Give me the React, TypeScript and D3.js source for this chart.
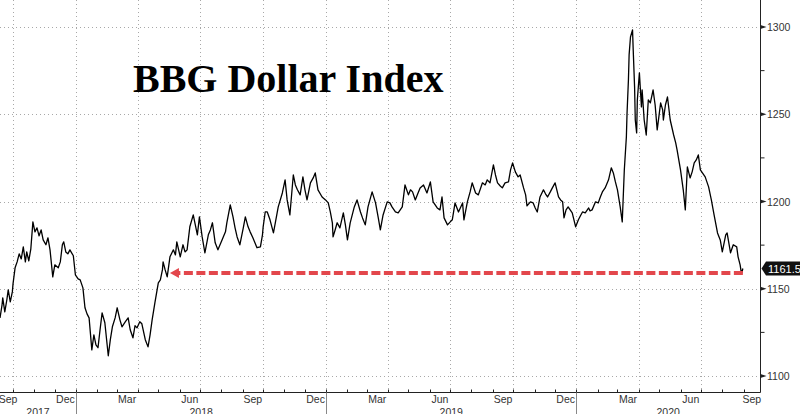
import React from 'react';
import * as d3 from 'd3';

// BBG Dollar Index (roughly every few days)
const series: [string, number][] = [
  ['2017-09-12', 1133.3], ['2017-09-15', 1140.8], ['2017-09-16', 1144.8], ['2017-09-19', 1136.8],
  ['2017-09-22', 1143.7], ['2017-09-24', 1149.4], ['2017-09-27', 1142.5], ['2017-09-30', 1148.2],
  ['2017-10-01', 1152.8], ['2017-10-04', 1162.0], ['2017-10-07', 1165.4], ['2017-10-10', 1170.0],
  ['2017-10-13', 1167.1], ['2017-10-16', 1174.0], ['2017-10-19', 1165.4], ['2017-10-21', 1171.1],
  ['2017-10-24', 1166.0], ['2017-10-27', 1172.9], ['2017-10-30', 1188.3], ['2017-11-02', 1182.6],
  ['2017-11-05', 1184.9], ['2017-11-08', 1180.3], ['2017-11-11', 1183.7], ['2017-11-14', 1178.0],
  ['2017-11-18', 1175.2], ['2017-11-21', 1179.2], ['2017-11-24', 1172.3], ['2017-11-28', 1156.8],
  ['2017-12-01', 1163.7], ['2017-12-06', 1162.0], ['2017-12-09', 1165.4], ['2017-12-12', 1175.2],
  ['2017-12-14', 1176.9], ['2017-12-17', 1171.1], ['2017-12-20', 1170.0], ['2017-12-23', 1172.3],
  ['2017-12-28', 1168.9], ['2017-12-31', 1158.0], ['2018-01-04', 1155.7], ['2018-01-07', 1155.1],
  ['2018-01-11', 1150.5], ['2018-01-14', 1139.1], ['2018-01-17', 1135.6], ['2018-01-20', 1133.3],
  ['2018-01-24', 1115.0], ['2018-01-27', 1123.6], ['2018-01-30', 1117.9], ['2018-02-02', 1116.2],
  ['2018-02-05', 1126.5], ['2018-02-08', 1136.2], ['2018-02-12', 1130.5], ['2018-02-17', 1111.6],
  ['2018-02-20', 1120.8], ['2018-02-23', 1128.2], ['2018-02-27', 1133.3], ['2018-03-02', 1139.1],
  ['2018-03-06', 1132.2], ['2018-03-09', 1128.2], ['2018-03-14', 1131.1], ['2018-03-18', 1133.3],
  ['2018-03-21', 1126.5], ['2018-03-25', 1121.9], ['2018-03-28', 1128.8], ['2018-03-31', 1127.6],
  ['2018-04-04', 1131.1], ['2018-04-07', 1129.9], ['2018-04-12', 1120.8], ['2018-04-16', 1116.7],
  ['2018-04-19', 1123.6], ['2018-04-22', 1132.2], ['2018-04-26', 1141.9], ['2018-05-01', 1153.4],
  ['2018-05-04', 1155.1], ['2018-05-07', 1160.8], ['2018-05-08', 1165.4], ['2018-05-11', 1160.8],
  ['2018-05-14', 1156.8], ['2018-05-18', 1168.3], ['2018-05-23', 1172.3], ['2018-05-26', 1169.4],
  ['2018-05-28', 1176.9], ['2018-06-02', 1168.3], ['2018-06-06', 1175.2], ['2018-06-09', 1171.1],
  ['2018-06-12', 1172.3], ['2018-06-16', 1185.5], ['2018-06-21', 1192.3], ['2018-06-24', 1186.6],
  ['2018-06-27', 1180.9], ['2018-06-30', 1191.2], ['2018-07-04', 1179.7], ['2018-07-08', 1170.6],
  ['2018-07-13', 1180.9], ['2018-07-16', 1183.7], ['2018-07-19', 1187.8], ['2018-07-23', 1176.3],
  ['2018-07-27', 1172.3], ['2018-08-02', 1178.0], ['2018-08-07', 1182.6], ['2018-08-09', 1187.8],
  ['2018-08-14', 1198.1], ['2018-08-18', 1191.2], ['2018-08-21', 1184.9], ['2018-08-24', 1179.7],
  ['2018-08-28', 1175.2], ['2018-09-02', 1184.9], ['2018-09-05', 1191.2], ['2018-09-09', 1185.5],
  ['2018-09-12', 1182.6], ['2018-09-16', 1179.2], ['2018-09-22', 1173.5], ['2018-09-27', 1174.0],
  ['2018-09-30', 1180.9], ['2018-10-01', 1185.5], ['2018-10-04', 1194.0], ['2018-10-07', 1194.0],
  ['2018-10-11', 1189.5], ['2018-10-16', 1182.0], ['2018-10-19', 1188.3], ['2018-10-23', 1196.9],
  ['2018-10-29', 1204.9], ['2018-11-02', 1212.4], ['2018-11-05', 1200.9], ['2018-11-09', 1192.3],
  ['2018-11-14', 1215.2], ['2018-11-17', 1209.5], ['2018-11-20', 1206.7], ['2018-11-24', 1203.8],
  ['2018-11-28', 1214.1], ['2018-12-01', 1206.7], ['2018-12-04', 1200.9], ['2018-12-09', 1210.7],
  ['2018-12-13', 1213.5], ['2018-12-16', 1216.4], ['2018-12-20', 1206.7], ['2018-12-26', 1202.6],
  ['2018-12-31', 1200.9], ['2019-01-04', 1199.2], ['2019-01-07', 1194.0], ['2019-01-10', 1187.8],
  ['2019-01-11', 1179.7], ['2019-01-14', 1183.7], ['2019-01-17', 1187.8], ['2019-01-21', 1184.9],
  ['2019-01-26', 1193.5], ['2019-01-29', 1186.6], ['2019-02-01', 1178.0], ['2019-02-05', 1187.8],
  ['2019-02-11', 1196.9], ['2019-02-15', 1200.9], ['2019-02-20', 1194.0], ['2019-02-23', 1190.6],
  ['2019-02-27', 1186.6], ['2019-03-03', 1196.9], ['2019-03-09', 1205.5], ['2019-03-14', 1199.2],
  ['2019-03-18', 1190.6], ['2019-03-21', 1183.7], ['2019-03-25', 1192.3], ['2019-03-31', 1199.8],
  ['2019-04-04', 1199.2], ['2019-04-07', 1196.9], ['2019-04-12', 1194.0], ['2019-04-16', 1193.5],
  ['2019-04-22', 1196.9], ['2019-04-26', 1209.5], ['2019-05-01', 1203.8], ['2019-05-04', 1206.7],
  ['2019-05-07', 1205.5], ['2019-05-11', 1200.9], ['2019-05-14', 1203.8], ['2019-05-18', 1207.8],
  ['2019-05-23', 1209.5], ['2019-05-28', 1204.9], ['2019-06-02', 1211.2], ['2019-06-06', 1199.8],
  ['2019-06-12', 1196.3], ['2019-06-16', 1195.2], ['2019-06-19', 1202.6], ['2019-06-22', 1190.6],
  ['2019-06-27', 1186.6], ['2019-07-01', 1188.3], ['2019-07-04', 1189.5], ['2019-07-08', 1199.2],
  ['2019-07-13', 1194.0], ['2019-07-19', 1199.2], ['2019-07-21', 1189.5], ['2019-07-26', 1199.8],
  ['2019-07-30', 1205.5], ['2019-08-02', 1210.7], ['2019-08-07', 1204.9], ['2019-08-11', 1203.8],
  ['2019-08-17', 1210.7], ['2019-08-21', 1209.5], ['2019-08-24', 1212.4], ['2019-08-28', 1210.7],
  ['2019-09-02', 1221.0], ['2019-09-05', 1215.2], ['2019-09-08', 1210.7], ['2019-09-12', 1208.9],
  ['2019-09-15', 1207.8], ['2019-09-19', 1210.7], ['2019-09-24', 1211.2], ['2019-09-27', 1218.1],
  ['2019-09-30', 1222.1], ['2019-10-04', 1217.0], ['2019-10-08', 1214.1], ['2019-10-11', 1215.2],
  ['2019-10-16', 1207.8], ['2019-10-19', 1203.8], ['2019-10-21', 1197.5], ['2019-10-26', 1199.8],
  ['2019-10-30', 1199.2], ['2019-11-02', 1196.3], ['2019-11-05', 1194.0], ['2019-11-09', 1202.6],
  ['2019-11-14', 1206.7], ['2019-11-17', 1204.4], ['2019-11-20', 1202.6], ['2019-11-24', 1205.5],
  ['2019-11-27', 1207.8], ['2019-12-01', 1210.7], ['2019-12-06', 1202.6], ['2019-12-09', 1200.9],
  ['2019-12-12', 1199.8], ['2019-12-14', 1190.6], ['2019-12-17', 1195.2], ['2019-12-20', 1196.9],
  ['2019-12-23', 1195.2], ['2019-12-26', 1193.5], ['2019-12-31', 1185.5], ['2020-01-04', 1189.5],
  ['2020-01-07', 1191.8], ['2020-01-10', 1194.0], ['2020-01-14', 1193.5], ['2020-01-19', 1196.3],
  ['2020-01-21', 1194.6], ['2020-01-24', 1195.2], ['2020-01-29', 1199.8], ['2020-02-02', 1199.2],
  ['2020-02-05', 1202.6], ['2020-02-08', 1205.5], ['2020-02-12', 1207.8], ['2020-02-17', 1212.4],
  ['2020-02-21', 1219.3], ['2020-02-24', 1216.4], ['2020-02-27', 1211.2], ['2020-03-01', 1206.7],
  ['2020-03-05', 1196.9], ['2020-03-08', 1188.3], ['2020-03-11', 1218.1], ['2020-03-14', 1237.0],
  ['2020-03-15', 1250.7], ['2020-03-17', 1269.6], ['2020-03-18', 1284.0], ['2020-03-20', 1294.3],
  ['2020-03-23', 1298.3], ['2020-03-24', 1286.8], ['2020-03-26', 1265.6], ['2020-03-27', 1246.7],
  ['2020-03-29', 1239.3], ['2020-03-30', 1258.2], ['2020-04-02', 1273.7], ['2020-04-05', 1254.2],
  ['2020-04-06', 1263.9], ['2020-04-09', 1246.7], ['2020-04-12', 1238.1], ['2020-04-15', 1258.2],
  ['2020-04-18', 1256.5], ['2020-04-22', 1263.9], ['2020-04-25', 1255.3], ['2020-04-28', 1241.0],
  ['2020-05-03', 1256.5], ['2020-05-06', 1252.5], ['2020-05-07', 1246.7], ['2020-05-10', 1255.3],
  ['2020-05-13', 1259.9], ['2020-05-17', 1246.7], ['2020-05-22', 1238.1], ['2020-05-25', 1233.6],
  ['2020-05-27', 1229.6], ['2020-06-01', 1218.1], ['2020-06-05', 1206.7], ['2020-06-08', 1195.2],
  ['2020-06-11', 1219.8], ['2020-06-15', 1213.5], ['2020-06-18', 1217.0], ['2020-06-21', 1222.1],
  ['2020-06-24', 1223.8], ['2020-06-27', 1226.7], ['2020-06-30', 1218.1], ['2020-07-03', 1216.4],
  ['2020-07-07', 1214.1], ['2020-07-12', 1208.4], ['2020-07-16', 1200.9], ['2020-07-20', 1192.3],
  ['2020-07-25', 1182.0], ['2020-07-29', 1178.0], ['2020-08-01', 1171.1], ['2020-08-06', 1180.9],
  ['2020-08-08', 1182.0], ['2020-08-13', 1170.6], ['2020-08-17', 1175.2], ['2020-08-22', 1174.0],
  ['2020-08-24', 1168.3], ['2020-08-27', 1163.7], ['2020-08-29', 1158.5], ['2020-08-31', 1161.59],
];

const domainDates = ['2017-09-12', '2020-09-25'];
const yTicks = [1100, 1150, 1200, 1250, 1300];
const yMinorTicks = [1125, 1175, 1225, 1275];
const monthNames = ['Jan', 'Feb', 'Mar', 'Apr', 'May', 'Jun', 'Jul', 'Aug', 'Sep', 'Oct', 'Nov', 'Dec'];
const lastValueLabel = '1161.59';

// red dashed arrow: from this date back to the first time the index was at that level
const arrowFrom = '2020-08-31';
const arrowTo = '2018-05-18';
const arrowLevel = 1159;

const title = 'BBG Dollar Index';

const W = 800;
const H = 414;
const FONT = '"Liberation Sans", Arial, sans-serif';

const parse = d3.timeParse('%Y-%m-%d');

export default function App() {
  const start = parse(domainDates[0])!;
  const end = parse(domainDates[1])!;

  const x = d3.scaleTime().domain([start, end]).range([0, 760]);
  const y = d3.scaleLinear().domain([1100, 1300]).range([376, 27]);

  const axisY = 392.5;
  const axisX = 760.5;

  const points = series.map(([d, v]) => ({ date: parse(d)!, value: v }));
  const line = d3.line<{ date: Date; value: number }>()
    .x(d => x(d.date))
    .y(d => y(d.value));

  const months = d3.timeMonth.range(d3.timeMonth.ceil(start), end);
  const quarterLines = months.filter(m => m.getMonth() % 3 === 0);
  const yearStarts = months.filter(m => m.getMonth() === 0);

  // labelled months (Sep, Dec, Mar, Jun), centred on the visible part of the month
  const labelMonths = d3.timeMonth.range(d3.timeMonth.floor(start), end)
    .filter(m => m.getMonth() % 3 === 2)
    .map(m => {
      const a = m < start ? start : m;
      const nextM = d3.timeMonth.offset(m, 1);
      const b = nextM > end ? end : nextM;
      return { label: monthNames[m.getMonth()], cx: (x(a) + x(b)) / 2 };
    });

  const years = d3.range(start.getFullYear(), end.getFullYear() + 1).map(yr => {
    const a = new Date(yr, 0, 1) < start ? start : new Date(yr, 0, 1);
    const b = new Date(yr + 1, 0, 1) > end ? end : new Date(yr + 1, 0, 1);
    return { label: String(yr), cx: (x(a) + x(b)) / 2 };
  });

  const ax1 = x(parse(arrowFrom)!);
  const ax2 = x(parse(arrowTo)!);
  const ay = y(arrowLevel);
  const lastY = y(points[points.length - 1].value);

  return (
    <svg width={W} height={H} style={{ position: 'absolute', left: 0, top: 0, background: '#fff' }}>
      <rect width={W} height={H} fill="#fff" />

      {/* gridlines */}
      <g stroke="#a8a8a8" strokeWidth={1} strokeDasharray="1 3">
        {yTicks.map(t => (
          <line key={t} x1={0} x2={axisX} y1={Math.round(y(t)) + 0.5} y2={Math.round(y(t)) + 0.5} />
        ))}
        {quarterLines.map(m => (
          <line key={+m} x1={Math.round(x(m)) + 0.5} x2={Math.round(x(m)) + 0.5} y1={0} y2={axisY} />
        ))}
      </g>

      {/* title */}
      <text x={133} y={92} fontFamily='"Liberation Serif", "Times New Roman", serif' fontWeight="bold" fontSize={40} fill="#000">
        {title}
      </text>

      {/* series */}
      <path d={line(points) ?? ''} fill="none" stroke="#000" strokeWidth={1.3} strokeLinejoin="round" />

      {/* red dashed arrow */}
      <line x1={ax1} x2={ax2 + 8} y1={ay} y2={ay} stroke="#e3474c" strokeWidth={4} strokeDasharray="9 3.5" />
      <path d={`M${ax2},${ay} L${ax2 + 9},${ay - 5} L${ax2 + 9},${ay + 5} Z`} fill="#e3474c" />

      {/* right axis */}
      <line x1={axisX} x2={axisX} y1={0} y2={axisY} stroke="#222" strokeWidth={1} />
      {yTicks.map(t => (
        <g key={t}>
          <path d={`M${axisX},${y(t) - 2} L${axisX + 6},${y(t)} L${axisX},${y(t) + 2} Z`} fill="#222" />
          <text x={767} y={y(t) + 4} fontFamily={FONT} fontSize={10.5} fill="#333">{t}</text>
        </g>
      ))}
      {yMinorTicks.map(t => (
        <line key={t} x1={axisX} x2={axisX + 4} y1={y(t)} y2={y(t)} stroke="#222" strokeWidth={1} />
      ))}

      {/* last value tag */}
      <path d={`M${axisX + 1},${lastY} L${766},${lastY - 7} H${W} V${lastY + 7} H${766} Z`} fill="#111" />
      <text x={768} y={lastY + 4} fontFamily={FONT} fontSize={11} fill="#fff">{lastValueLabel}</text>

      {/* bottom axis */}
      <line x1={0} x2={axisX} y1={axisY} y2={axisY} stroke="#222" strokeWidth={1} />
      {months.map(m => (
        <line key={+m} x1={Math.round(x(m)) + 0.5} x2={Math.round(x(m)) + 0.5} y1={axisY - 3} y2={axisY} stroke="#222" strokeWidth={1} />
      ))}
      {yearStarts.map(m => (
        <line key={+m} x1={Math.round(x(m)) + 0.5} x2={Math.round(x(m)) + 0.5} y1={axisY} y2={H} stroke="#888" strokeWidth={1} />
      ))}
      {labelMonths.map((l, i) => (
        <text key={i} x={Math.max(l.cx, 8)} y={403} textAnchor="middle" fontFamily={FONT} fontSize={10.5} fill="#333">
          {l.label}
        </text>
      ))}
      {years.map(yl => (
        <text key={yl.label} x={yl.cx} y={416} textAnchor="middle" fontFamily={FONT} fontSize={10.5} fill="#333">
          {yl.label}
        </text>
      ))}
    </svg>
  );
}
